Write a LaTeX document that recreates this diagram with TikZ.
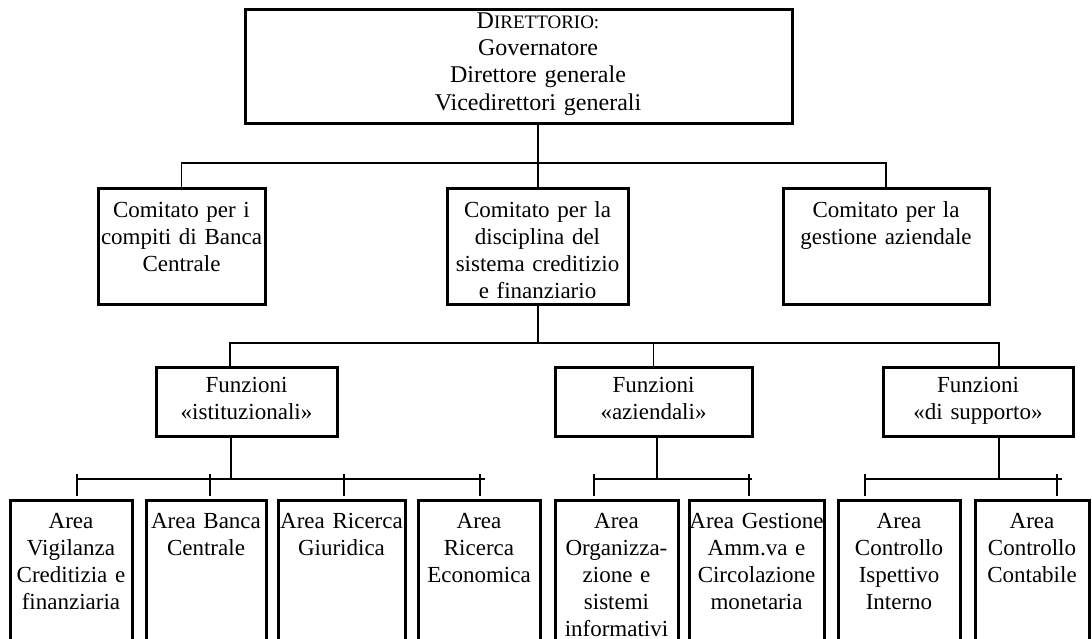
\documentclass[tikz,border=0pt]{standalone}
\usepackage{fontspec}
\setmainfont{Liberation Serif}
\tikzset{
  unit/.style={draw,line width=1.5pt,anchor=north,align=center,
    text width=#1+16pt,inner xsep=-8pt,text height=9pt,
    font=\fontsize{11.5}{13.5}\selectfont},
  comitato/.style={unit=#1,inner ysep=5.5pt,text depth=38pt},
  funzione/.style={unit=#1,inner ysep=3.5pt,text depth=18.5pt},
  area/.style={unit=#1,inner ysep=5pt,text depth=80pt},
  link/.style={line width=0.9pt},
}
\begin{document}
\begin{tikzpicture}[x=0.5pt,y=-0.5pt]
  \clip (0,0) rectangle (1092,638);
  \node[draw,line width=1.5pt,anchor=north,minimum width=273.5pt,
    minimum height=57pt,inner sep=0pt] (dir) at (518.5,8) {};
  \node[anchor=north,align=center,inner sep=0pt,text width=150pt,text height=9pt,
    font=\fontsize{12}{13.6}\selectfont] (dirtxt) at (538,10)
    {D{\fontsize{9.5}{11}\selectfont IRETTORIO:}\\Governatore\\Direttore generale\\Vicedirettori generali};

  \node[comitato=83.5pt] (c1) at (181.5,187) {Comitato per i\\compiti di Banca\\Centrale};
  \node[comitato=90.5pt] (c2) at (537.5,187) {Comitato per la\\disciplina del\\sistema creditizio\\e finanziario};
  \node[comitato=103pt] (c3) at (886,187) {Comitato per la\\gestione aziendale};

  \node[funzione=90.5pt] (fi) at (246.5,366) {Funzioni\\«istituzionali»};
  \node[funzione=98.5pt] (fa) at (653.5,366) {Funzioni\\«aziendali»};
  \node[funzione=95pt] (fs) at (978,366) {Funzioni\\«di supporto»};

  \node[area=61pt] (a1) at (71,499) {Area\\Vigilanza\\Creditizia e\\finanziaria};
  \node[area=60pt] (a2) at (206,499) {Area Banca\\Centrale};
  \node[area=63.5pt] (a3) at (341.5,499) {Area Ricerca\\Giuridica};
  \node[area=61pt] (a4) at (479,499) {Area\\Ricerca\\Economica};
  \node[area=61.5pt] (a5) at (616.5,499) {Area\\Organizza-\\zione e\\sistemi\\informativi};
  \node[area=67.5pt] (a6) at (756.5,499) {Area Gestione\\Amm.va e\\Circolazione\\monetaria};
  \node[area=61pt] (a7) at (899,499) {Area\\Controllo\\Ispettivo\\Interno};
  \node[area=57pt] (a8) at (1032,499) {Area\\Controllo\\Contabile};

  \coordinate (k0) at (538,163);
  \draw[link] (dir.south -| k0) -- (k0);
  \draw[link] (c1.north) |- (k0) -| (c3.north);
  \draw[link] (k0) -- (c2.north -| k0);

  \coordinate (k1) at (538,343);
  \coordinate (k2) at (230,343);
  \coordinate (k3) at (999,343);
  \draw[link] (c2.south -| k1) -- (k1);
  \draw[link] (fi.north -| k2) -- (k2) -- (k3) -- (fs.north -| k3);
  \draw[link] (fa.north) -- (fa.north |- k1);

  \coordinate (g1) at (231,479);
  \coordinate (g2) at (657,479);
  \coordinate (g3) at (999,479);
  \draw[link] (fi.south -| g1) -- (g1);
  \draw[link] (fa.south -| g2) -- (g2);
  \draw[link] (fs.south -| g3) -- (g3);
  \draw[link] (77,479) -- (485,479);
  \draw[link] (594,479) -- (752,479);
  \draw[link] (865,479) -- (1062,479);
  \foreach \x/\a in {77/a1,210/a2,344/a3,480/a4,594/a5,749/a6,865/a7,1057/a8}{
    \coordinate (t\a) at (\x,474);
    \draw[link,shorten >=1.5pt] (t\a) -- (t\a |- \a.north);
  }
\end{tikzpicture}
\end{document}
